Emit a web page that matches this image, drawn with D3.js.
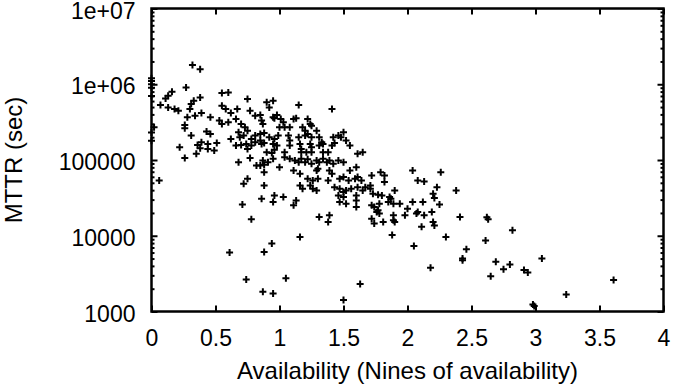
<!DOCTYPE html>
<html>
<head>
<meta charset="utf-8">
<script src="https://cdn.jsdelivr.net/npm/d3@7"></script>
<style>
  body { margin: 0; background: #fff; }
  text { font-family: "Liberation Sans", Arial, Helvetica, sans-serif; font-size: 23px; fill: #000; }
  .title { font-size: 24px; }
</style>
</head>
<body>
<div id="chart"></div>
<script>
// tick values and labels, as printed on the axes
const xTicks = [0, 0.5, 1, 1.5, 2, 2.5, 3, 3.5, 4];
const xTickLabels = ['0', '0.5', '1', '1.5', '2', '2.5', '3', '3.5', '4'];
const yTicks = [1e3, 1e4, 1e5, 1e6, 1e7];
const yTickLabels = ['1000', '10000', '100000', '1e+06', '1e+07'];

// availability (nines) and MTTR (sec), same order
const availability = [
  0.32, 0.38, 0.27, 0.16, 0.11, 0.13, 0.55, 0.60, 0.38, 0.33, 0.31, 0.07, 0.13, 0.18, 0.21, 0.30,
  0.55, 0.58, 0.67, 0.62, 0.75, 0.77, 0.81, 0.39, 0.34, 0.28, 0.46, 0.53, 0.55, 0.60, 0.66, 0.70,
  0.73, 0.26, 0.26, 0.31, 0.43, 0.46, 0.68, 0.69, 0.72, 0.75, 0.78, 0.81, 0.62, 0.02, 0.39, 0.36,
  0.38, 0.44, 0.51, 0.22, 0.35, 0.49, 0.44, 0.66, 0.70, 0.74, 0.75, 0.78, 0.81, 0, 0, 0, 0, 0, 0, 0,
  0.90, 0.95, 0.92, 1.15, 1.41, 0.85, 0.86, 0.87, 0.95, 0.98, 0.96, 1.01, 1.03, 1.11, 1.13, 1.22,
  1.24, 1.25, 1.00, 1.04, 1.08, 1.18, 1.20, 1.29, 0.85, 0.88, 0.92, 0.96, 0.99, 1.07, 1.08, 1.15,
  1.20, 1.22, 1.25, 1.31, 1.33, 1.42, 1.46, 1.50, 1.48, 1.52, 1.55, 0.85, 0.86, 0.88, 0.95, 0.98,
  0.96, 1.08, 1.16, 1.17, 1.24, 1.25, 1.31, 1.34, 1.41, 1.43, 1.04, 1.17, 1.21, 1.25, 1.34, 1.38,
  1.61, 1.65, 0.90, 0.94, 0.87, 0.91, 0.95, 0.85, 0.88, 1.00, 1.04, 1.08, 1.12, 1.15, 1.17, 1.20,
  1.22, 1.25, 1.29, 1.31, 1.34, 1.37, 1.39, 1.42, 1.46, 1.50, 1.11, 1.16, 1.29, 1.30, 1.39, 1.41,
  1.55, 1.60, 0.88, 1.22, 1.26, 1.30, 1.38, 1.47, 1.50, 1.54, 1.59, 1.61, 1.64, 1.16, 1.18, 1.24,
  1.26, 1.29, 1.43, 1.47, 1.50, 1.52, 1.56, 1.61, 1.65, 1.67, 0.88, 0.86, 0.96, 0.95, 1.03, 1.13,
  1.11, 1.46, 1.50, 1.47, 1.52, 1.60, 1.60, 1.60, 1.31, 1.39, 1.38, 1.16, 0.94, 0.88, 1.72, 1.79,
  1.82, 1.82, 1.71, 1.71, 2.04, 2.26, 2.08, 2.13, 1.90, 2.23, 2.38, 1.73, 1.77, 1.80, 2.20, 2.21,
  1.86, 1.87, 1.72, 1.74, 1.78, 1.77, 1.85, 1.89, 1.94, 2.04, 2.12, 2.25, 2.00, 1.76, 1.78, 2.08,
  2.07, 2.19, 1.89, 1.98, 2.13, 1.72, 1.74, 1.81, 1.89, 1.90, 2.20, 2.21, 2.11, 2.41, 1.88, 2.30,
  2.05, 2.46, 2.62, 2.63, 2.82, 2.61, 2.43, 2.43, 2.18, 2.69, 2.75, 2.80, 2.65, 2.91, 2.94, 3.05,
  3.24, 3.61, 2.98, 2.99, 0.06, 0.26, 0.68, 0.77, 0.82, 0.75, 0.72, 0.71, 0.78, 0.61, 0.74, 1.05,
  0.87, 0.95, 1.50, 1.63
];
const mttr = [
  1790000, 1580000, 908000, 796000, 650000, 706000, 766000, 780000, 670000, 607000, 549000, 532000, 495000, 472000, 448000, 472000,
  521000, 472000, 472000, 418000, 638000, 448000, 385000, 418000, 385000, 366000, 366000, 331000, 299000, 314000, 349000, 299000,
  270000, 290000, 262000, 210000, 237000, 221000, 232000, 200000, 210000, 244000, 190000, 210000, 190000, 270000, 171000, 158000,
  143000, 163000, 168000, 147000, 121000, 133000, 140000, 155000, 158000, 163000, 140000, 155000, 171000, 1200000, 1100000, 1000000, 900000, 700000, 230000, 180000,
  577000, 607000, 495000, 532000, 472000, 393000, 331000, 299000, 366000, 393000, 355000, 349000, 314000, 349000, 355000, 349000,
  299000, 284000, 270000, 270000, 270000, 270000, 244000, 244000, 221000, 228000, 200000, 190000, 210000, 210000, 181000, 200000,
  210000, 221000, 200000, 200000, 171000, 200000, 210000, 232000, 200000, 181000, 155000, 181000, 163000, 168000, 163000, 155000,
  137000, 155000, 163000, 140000, 163000, 147000, 155000, 163000, 155000, 168000, 127000, 127000, 127000, 127000, 127000, 127000,
  121000, 127000, 127000, 124000, 98400, 93500, 104000, 84700, 86500, 80400, 109000, 104000, 98400, 93500, 104000, 93500,
  102000, 89100, 98400, 93500, 104000, 93500, 98400, 89100, 98400, 93500, 72800, 65800, 72800, 76500, 72800, 65800,
  72800, 80400, 69100, 56600, 53700, 56600, 53700, 56600, 59500, 53700, 56600, 59500, 53700, 46100, 41800, 46100,
  41800, 39700, 43800, 41800, 37700, 39700, 41800, 43800, 39700, 43800, 46100, 30800, 34100, 27900, 32400, 29300,
  25200, 34100, 32400, 27900, 26500, 34100, 29300, 23900, 17700, 18600, 15200, 9640, 7890, 6120, 62500, 69100,
  62500, 51100, 46100, 41800, 72800, 69100, 53700, 52100, 39700, 43800, 39700, 35900, 34800, 34100, 35900, 31400,
  32400, 30800, 25200, 23900, 26500, 21700, 27900, 26500, 26500, 27900, 27900, 25800, 22800, 20600, 19600, 20600,
  19600, 20600, 18600, 18600, 18600, 16800, 14500, 15200, 16000, 15200, 15200, 13700, 13100, 17700, 10200, 9640,
  7340, 6640, 17500, 16500, 11800, 8650, 5010, 4760, 3770, 4520, 3620, 4180, 2930, 3520, 3280, 5010,
  1680, 2600, 1240, 1180, 53700, 106000, 93500, 106000, 84700, 56600, 48700, 25800, 16500, 6010, 2650, 2740,
  1820, 1730, 1420, 2300
];

const width = 673, height = 384;
const plot = {left: 151.5, right: 663.5, top: 8.5, bottom: 311.5};

const svg = d3.select('#chart').append('svg')
  .attr('width', width)
  .attr('height', height)
  .style('background', '#fff');

const x = d3.scaleLinear().domain([0, 4]).range([plot.left, plot.right]);
const y = d3.scaleLog().domain([1e3, 1e7]).range([plot.bottom, plot.top]);

// minor log ticks 2..9 in each decade
const yMinor = [];
yTicks.slice(0, -1).forEach(d => {
  for (let k = 2; k <= 9; k++) yMinor.push(d * k);
});

function styleAxis(g) {
  g.select('.domain').remove();
  g.selectAll('line').attr('stroke', '#000').attr('stroke-width', 2);
  g.selectAll('text').attr('font-size', null).attr('font-family', null);
}

// bottom and top (mirror) x ticks
svg.append('g')
  .attr('transform', `translate(0,${plot.bottom})`)
  .call(d3.axisBottom(x).tickValues(xTicks).tickSizeInner(-6).tickSizeOuter(0).tickPadding(18)
    .tickFormat((d, i) => xTickLabels[i]))
  .call(styleAxis);

svg.append('g')
  .attr('transform', `translate(0,${plot.top})`)
  .call(d3.axisTop(x).tickValues(xTicks).tickSizeInner(-6).tickSizeOuter(0).tickFormat(''))
  .call(styleAxis);

// left and right y ticks
const yAxisG = svg.append('g')
  .attr('transform', `translate(${plot.left},0)`)
  .call(d3.axisLeft(y).tickValues(yTicks).tickSizeInner(-6).tickSizeOuter(0).tickPadding(16)
    .tickFormat((d, i) => yTickLabels[i]))
  .call(styleAxis);
yAxisG.selectAll('text').attr('dy', '9.5px');

svg.append('g')
  .attr('transform', `translate(${plot.left},0)`)
  .call(d3.axisLeft(y).tickValues(yMinor).tickSizeInner(-3).tickSizeOuter(0).tickFormat(''))
  .call(styleAxis);

svg.append('g')
  .attr('transform', `translate(${plot.right},0)`)
  .call(d3.axisRight(y).tickValues(yTicks).tickSizeInner(-6).tickSizeOuter(0).tickFormat(''))
  .call(styleAxis);

svg.append('g')
  .attr('transform', `translate(${plot.right},0)`)
  .call(d3.axisRight(y).tickValues(yMinor).tickSizeInner(-3).tickSizeOuter(0).tickFormat(''))
  .call(styleAxis);

// frame
svg.append('rect')
  .attr('x', plot.left)
  .attr('y', plot.top)
  .attr('width', plot.right - plot.left)
  .attr('height', plot.bottom - plot.top)
  .attr('fill', 'none')
  .attr('stroke', '#000')
  .attr('stroke-width', 2.5);

// points drawn as '+'
const points = availability.map((a, i) => ({a: a, m: mttr[i]}));
const arm = 3.5;
svg.append('g')
  .selectAll('path')
  .data(points)
  .join('path')
  .attr('d', d => {
    const px = x(d.a), py = y(d.m);
    return `M${px - arm},${py}H${px + arm}M${px},${py - arm}V${py + arm}`;
  })
  .attr('stroke', '#000')
  .attr('stroke-width', 2)
  .attr('fill', 'none');

// axis titles
svg.append('text')
  .attr('class', 'title')
  .attr('x', (plot.left + plot.right) / 2)
  .attr('y', 379)
  .attr('text-anchor', 'middle')
  .text('Availability (Nines of availability)');

svg.append('text')
  .attr('class', 'title')
  .attr('transform', `translate(22,${(plot.top + plot.bottom) / 2}) rotate(-90)`)
  .attr('text-anchor', 'middle')
  .text('MTTR (sec)');
</script>
</body>
</html>
